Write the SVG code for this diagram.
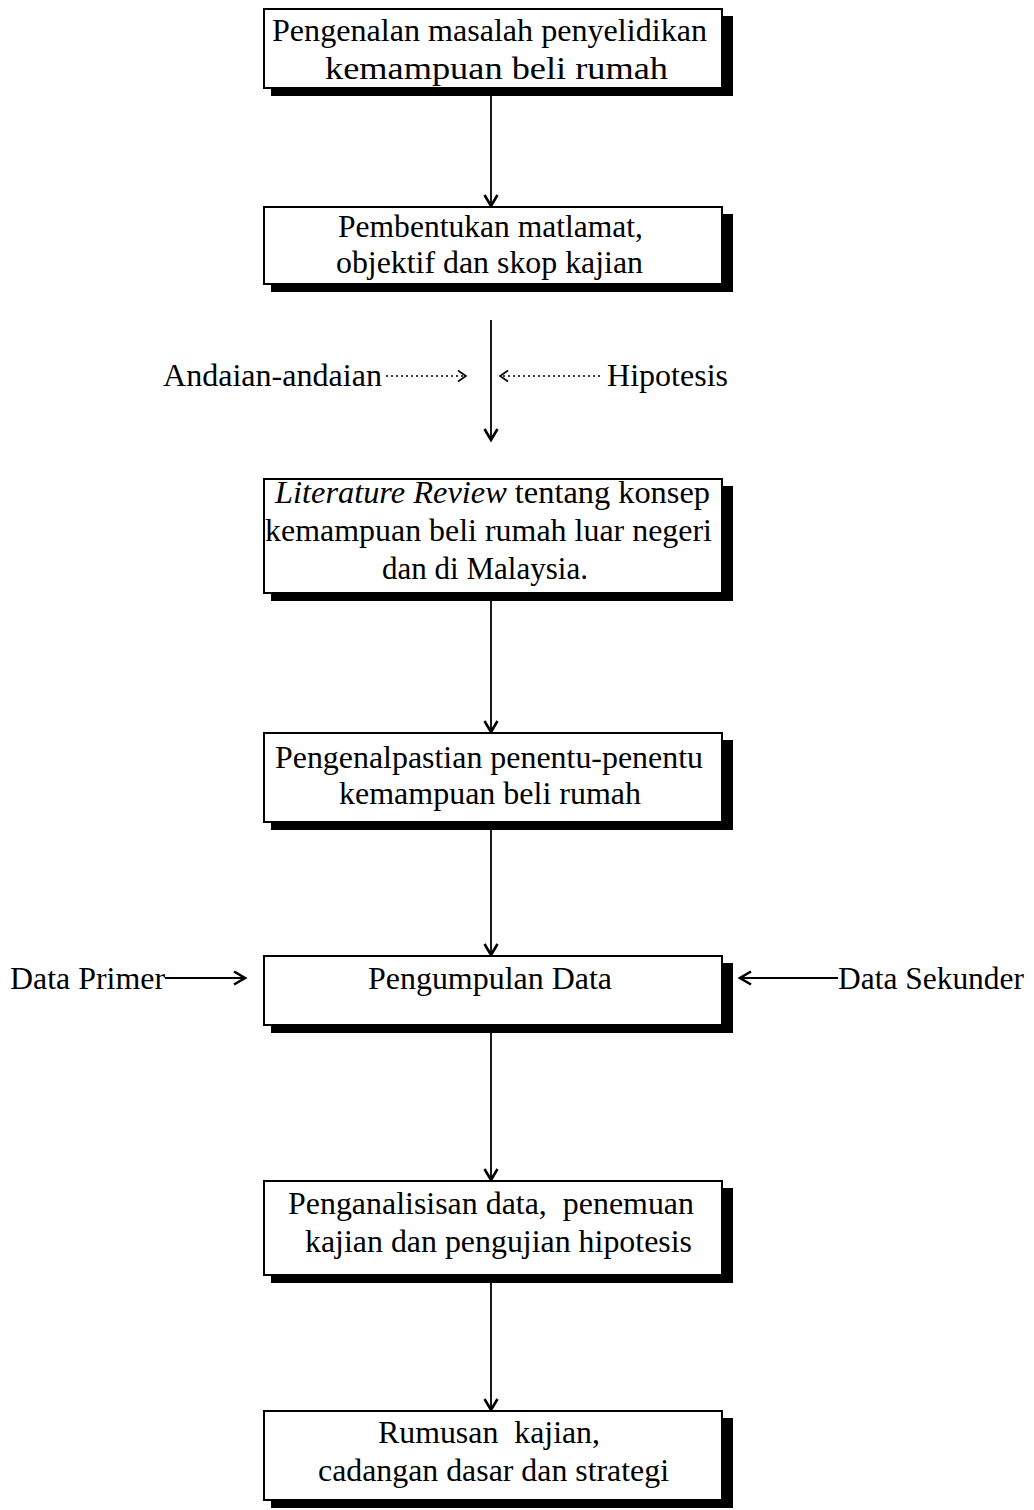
<svg xmlns="http://www.w3.org/2000/svg" width="1034" height="1510" viewBox="0 0 1034 1510">
<style>
.box{fill:#fff;stroke:#000;stroke-width:2}
.sh{fill:#000}
text{font-family:"Liberation Serif","Times New Roman",serif;font-size:31px;fill:#000}
.c{stroke:#000;stroke-width:1.8;fill:none}
.d{stroke:#000;stroke-width:1.4;fill:none;stroke-dasharray:2 3}
</style>
<defs>
<marker id="ah" markerWidth="16" markerHeight="16" refX="13" refY="8" orient="auto" markerUnits="userSpaceOnUse">
<path d="M2,1.5 L13,8 L2,14.5" fill="none" stroke="#000" stroke-width="2.6"/>
</marker>
<marker id="ahs" markerWidth="14" markerHeight="14" refX="12" refY="7" orient="auto" markerUnits="userSpaceOnUse">
<path d="M4,1.5 L12,7 L4,12.5" fill="none" stroke="#000" stroke-width="1.6"/>
</marker>
</defs>
<rect width="1034" height="1510" fill="#fff"/>

<g id="connectors">
<line class="c" x1="491" y1="96" x2="491" y2="206" marker-end="url(#ah)"/>
<line class="c" x1="491" y1="320" x2="491" y2="440" marker-end="url(#ah)"/>
<line class="c" x1="491" y1="601" x2="491" y2="732" marker-end="url(#ah)"/>
<line class="c" x1="491" y1="830" x2="491" y2="955" marker-end="url(#ah)"/>
<line class="c" x1="491" y1="1033" x2="491" y2="1180" marker-end="url(#ah)"/>
<line class="c" x1="491" y1="1283" x2="491" y2="1410" marker-end="url(#ah)"/>
<line class="d" x1="386" y1="376" x2="466" y2="376" marker-end="url(#ahs)"/>
<line class="d" x1="600" y1="376" x2="500" y2="376" marker-end="url(#ahs)"/>
<line class="c" x1="165" y1="978" x2="245" y2="978" marker-end="url(#ah)"/>
<line class="c" x1="838" y1="978" x2="740" y2="978" marker-end="url(#ah)"/>
</g>

<g id="n1">
<rect class="sh" x="271" y="16" width="462" height="80"/>
<rect class="box" x="264" y="9" width="458" height="79"/>
<text x="272" y="41" textLength="435" lengthAdjust="spacingAndGlyphs">Pengenalan masalah penyelidikan</text>
<text x="325" y="79" textLength="343" lengthAdjust="spacingAndGlyphs">kemampuan beli rumah</text>
</g>

<g id="n2">
<rect class="sh" x="271" y="214" width="462" height="78"/>
<rect class="box" x="264" y="207" width="458" height="77"/>
<text x="338" y="237" textLength="305" lengthAdjust="spacingAndGlyphs">Pembentukan matlamat,</text>
<text x="336" y="273" textLength="307" lengthAdjust="spacingAndGlyphs">objektif dan skop kajian</text>
</g>

<g id="lbl-andaian">
<text x="163" y="386" textLength="219" lengthAdjust="spacingAndGlyphs">Andaian-andaian</text>
</g>
<g id="lbl-hipotesis">
<text x="607" y="386" textLength="121" lengthAdjust="spacingAndGlyphs">Hipotesis</text>
</g>

<g id="n3">
<rect class="sh" x="271" y="486" width="462" height="115"/>
<rect class="box" x="264" y="479" width="458" height="114"/>
<text x="275" y="503" textLength="435" lengthAdjust="spacingAndGlyphs"><tspan font-style="italic">Literature Review</tspan> tentang konsep</text>
<text x="265" y="541" textLength="447" lengthAdjust="spacingAndGlyphs">kemampuan beli rumah luar negeri</text>
<text x="382" y="579" textLength="206" lengthAdjust="spacingAndGlyphs">dan di Malaysia.</text>
</g>

<g id="n4">
<rect class="sh" x="271" y="740" width="462" height="90"/>
<rect class="box" x="264" y="733" width="458" height="89"/>
<text x="275" y="768" textLength="428" lengthAdjust="spacingAndGlyphs">Pengenalpastian penentu-penentu</text>
<text x="339" y="804" textLength="302" lengthAdjust="spacingAndGlyphs">kemampuan beli rumah</text>
</g>

<g id="lbl-primer">
<text x="10" y="989" textLength="155" lengthAdjust="spacingAndGlyphs">Data Primer</text>
</g>
<g id="lbl-sekunder">
<text x="838" y="989" textLength="186" lengthAdjust="spacingAndGlyphs">Data Sekunder</text>
</g>

<g id="n5">
<rect class="sh" x="271" y="963" width="462" height="70"/>
<rect class="box" x="264" y="956" width="458" height="69"/>
<text x="368" y="989" textLength="244" lengthAdjust="spacingAndGlyphs">Pengumpulan Data</text>
</g>

<g id="n6">
<rect class="sh" x="271" y="1188" width="462" height="95"/>
<rect class="box" x="264" y="1181" width="458" height="94"/>
<text x="288" y="1214" textLength="406" lengthAdjust="spacingAndGlyphs" xml:space="preserve">Penganalisisan data,  penemuan</text>
<text x="305" y="1252" textLength="387" lengthAdjust="spacingAndGlyphs">kajian dan pengujian hipotesis</text>
</g>

<g id="n7">
<rect class="sh" x="271" y="1418" width="462" height="90"/>
<rect class="box" x="264" y="1411" width="458" height="89"/>
<text x="378" y="1443" textLength="222" lengthAdjust="spacingAndGlyphs" xml:space="preserve">Rumusan  kajian,</text>
<text x="318" y="1481" textLength="351" lengthAdjust="spacingAndGlyphs">cadangan dasar dan strategi</text>
</g>
</svg>
